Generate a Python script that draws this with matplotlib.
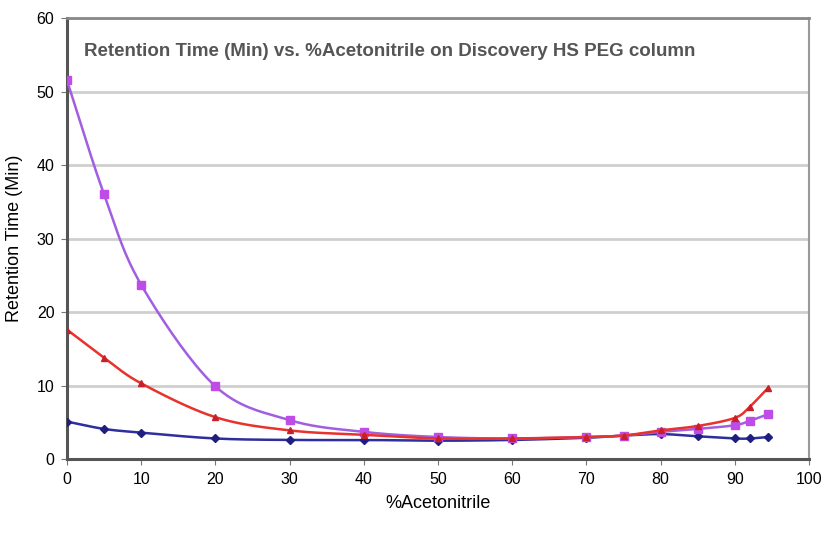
import matplotlib
matplotlib.use("Agg")
import matplotlib.pyplot as plt
import numpy as np

plt.rcParams['font.family'] = ['Liberation Sans', 'DejaVu Sans']

# %Acetonitrile
acn = [0, 5, 10, 20, 30, 40, 50, 60, 70, 75, 80, 85, 90, 92, 94.5]

# retention times (min)
rt_purple = [51.5, 36.0, 23.7, 9.9, 5.3, 3.7, 3.0, 2.8, 3.0, 3.2, 3.7, 4.1, 4.6, 5.2, 6.1]
rt_red = [17.6, 13.8, 10.3, 5.7, 3.9, 3.3, 2.8, 2.8, 3.0, 3.2, 3.9, 4.5, 5.6, 7.1, 9.7]
rt_blue = [5.1, 4.1, 3.6, 2.8, 2.6, 2.6, 2.5, 2.6, 2.9, 3.2, 3.4, 3.1, 2.8, 2.8, 3.0]

title_text = 'Retention Time (Min) vs. %Acetonitrile on Discovery HS PEG column'


def smooth(xs, ys, n=20):
    # catmull-rom curve through the points, like excel's smoothed line
    xs = np.asarray(xs, float)
    ys = np.asarray(ys, float)
    px = np.concatenate([[2 * xs[0] - xs[1]], xs, [2 * xs[-1] - xs[-2]]])
    py = np.concatenate([[2 * ys[0] - ys[1]], ys, [2 * ys[-1] - ys[-2]]])
    outx, outy = [], []
    t = np.linspace(0, 1, n, endpoint=False)
    for i in range(1, len(px) - 2):
        for p, out in ((px, outx), (py, outy)):
            p0, p1, p2, p3 = p[i - 1], p[i], p[i + 1], p[i + 2]
            m1 = (p2 - p0) / 6.0
            m2 = (p3 - p1) / 6.0
            c1 = p1 + m1
            c2 = p2 - m2
            out.extend((1 - t) ** 3 * p1 + 3 * (1 - t) ** 2 * t * c1
                       + 3 * (1 - t) * t ** 2 * c2 + t ** 3 * p2)
    outx.append(xs[-1])
    outy.append(ys[-1])
    return outx, outy


fig = plt.figure(figsize=(8.24, 5.42), dpi=100)
ax = fig.add_axes([0.0813, 0.153, 0.9005, 0.8138])

sx, sy = smooth(acn, rt_blue)
ax.plot(sx, sy, color='#2E2E9E', lw=1.8, zorder=3)
ax.plot(acn, rt_blue, 'D', color='#1F1F80', ms=4, zorder=4)

sx, sy = smooth(acn, rt_purple)
ax.plot(sx, sy, color='#A25EE0', lw=1.8, zorder=3)
ax.plot(acn, rt_purple, 's', color='#C04CE8', ms=6, zorder=4)

sx, sy = smooth(acn, rt_red)
ax.plot(sx, sy, color='#E8322C', lw=1.8, zorder=5)
ax.plot(acn, rt_red, '^', color='#C8202A', ms=4.5, zorder=6)

ax.set_xlim(0, 100)
ax.set_ylim(0, 60)
ax.set_xticks(np.arange(0, 101, 10))
ax.set_yticks(np.arange(0, 61, 10))
ax.yaxis.grid(True, color='#CFCFCF', lw=2)
ax.set_axisbelow(True)
ax.tick_params(labelsize=11.5, length=4, color='#777777', pad=5)

ax.spines['left'].set_color('#555555')
ax.spines['left'].set_linewidth(2.2)
ax.spines['bottom'].set_color('#555555')
ax.spines['bottom'].set_linewidth(2.2)
ax.spines['top'].set_color('#888888')
ax.spines['top'].set_linewidth(2)
ax.spines['right'].set_color('#999999')
ax.spines['right'].set_linewidth(1.5)

ax.set_xlabel('%Acetonitrile', fontsize=13, labelpad=6)
ax.set_ylabel('Retention Time (Min)', fontsize=13, labelpad=10)

ax.text(0.023, 0.925, title_text, transform=ax.transAxes, fontsize=13.5,
        fontweight='bold', color='#555555', va='center', ha='left')

fig.savefig('out.png', dpi=100)
